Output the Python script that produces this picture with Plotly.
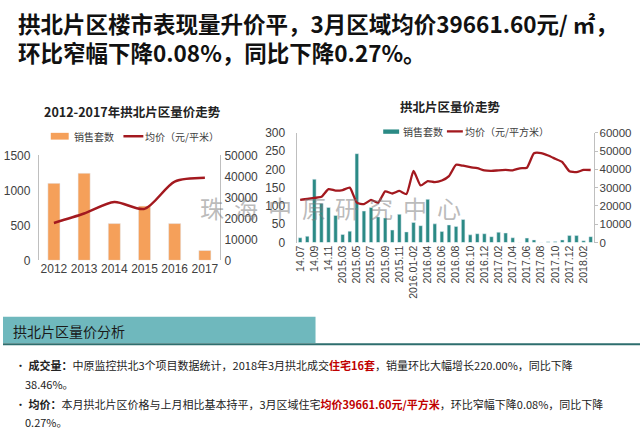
import plotly.graph_objects as go

# ---------------- data ----------------
years = ['2012', '2013', '2014', '2015', '2016', '2017']
year_sales = [1100, 1245, 525, 775, 525, 140]
year_price = [17800, 22300, 27800, 24500, 37500, 39300]

months = ['14.07', '14.08', '14.09', '14.10', '14.11', '14.12-15.02',
          '2015.03', '2015.04', '2015.05', '2015.06', '2015.07', '2015.08',
          '2015.09', '2015.10', '2015.11', '2015.12', '2016.01-02', '2016.03',
          '2016.04', '2016.05', '2016.06', '2016.07', '2016.08', '2016.09',
          '2016.10', '2016.11', '2016.12', '2017.01', '2017.02', '2017.03',
          '2017.04', '2017.05', '2017.06', '2017.07', '2017.08', '2017.09',
          '2017.10', '2017.11', '2017.12', '2018.01', '2018.02', '2018.03']
month_sales = [13, 17, 173, 107, 96, 74, 22, 31, 243, 86, 96, 70,
               67, 34, 77, 29, 55, 46, 118, 51, 30, 48, 44, 63,
               21, 24, 24, 16, 28, 26, 13, 0, 12, 7, 0, 2,
               3, 7, 19, 19, 5, 16]
month_price = [23300, 23800, 24400, 25000, 29200, 28400, 28700, 30000, 21800, 21000,
               23300, 21700, 28000, 26800, 28200, 26500, 39200, 31200, 33600, 33000,
               33900, 36300, 42500, 42000, 41200, 40700, 39400, 39200, 39500, 39700,
               39500, 40600, 40900, 48800, 48900, 47600, 45800, 44000, 39000, 38500,
               39700, 39661.6]

headline1 = "拱北片区楼市表现量升价平，3月区域均价39661.60元/ ㎡，"
headline2 = "环比窄幅下降0.08%，同比下降0.27%。"
left_title = "2012-2017年拱北片区量价走势"
right_title = "拱北片区量价走势"
left_names = ["销售套数", "均价（元/平米）"]
right_names = ["销售套数", "均价（元/平方米）"]
section_title = "拱北片区量价分析"
watermark = "珠海中原研究中心"

W, H = 640, 437
def px(x): return x / W
def py(y): return 1 - y / H

CJK = "Noto Sans CJK SC"
NUM = "Liberation Sans, Noto Sans CJK SC"
RED = "#A3191F"
ORANGE = "#F5A05A"
TEAL = "#2B8A85"
AX = "#BFBFBF"
TXT = "#404040"

fig = go.Figure()

fig.add_trace(go.Bar(x=years, y=year_sales, name=left_names[0], marker_color=ORANGE,
                     width=0.4, xaxis="x", yaxis="y", showlegend=False))
fig.add_trace(go.Scatter(x=years, y=year_price, name=left_names[1], mode="lines",
                         line=dict(color=RED, width=2.5, shape="spline", smoothing=0.8),
                         xaxis="x", yaxis="y2", showlegend=False))
fig.add_trace(go.Bar(x=months, y=month_sales, name=right_names[0], marker_color=TEAL,
                     width=0.5, xaxis="x2", yaxis="y3", showlegend=False))
fig.add_trace(go.Scatter(x=months, y=month_price, name=right_names[1], mode="lines",
                         line=dict(color=RED, width=2.3, shape="spline", smoothing=0.5),
                         xaxis="x2", yaxis="y4", showlegend=False))

tick_common = dict(showgrid=False, zeroline=False, tickformat="d")

fig.update_layout(
    width=W, height=H, margin=dict(l=0, r=0, t=0, b=0),
    paper_bgcolor="white", plot_bgcolor="white",
    font=dict(family=CJK, color=TXT),
    xaxis=dict(domain=[px(36), px(218)], anchor="y", type="category",
               showline=False, ticks="", showgrid=False, zeroline=False,
               tickfont=dict(family=NUM, size=12, color=TXT)),
    yaxis=dict(domain=[py(261.7), py(153.3)], anchor="x", range=[0, 1500], dtick=500,
               showline=True, linecolor=AX, linewidth=1, ticks="", ticklabelstandoff=5,
               tickfont=dict(family=NUM, size=12, color=TXT), **tick_common),
    yaxis2=dict(overlaying="y", side="right", anchor="x", range=[0, 50000], dtick=10000,
                showline=True, linecolor=AX, linewidth=1, ticks="", ticklabelstandoff=1,
                tickfont=dict(family=NUM, size=12, color=TXT), **tick_common),
    xaxis2=dict(domain=[px(295), px(594)], anchor="y3", type="category",
                showline=False, ticks="", tickangle=-90, showgrid=False, zeroline=False,
                tickvals=months[::2], ticktext=months[::2],
                tickfont=dict(family=NUM, size=10.5, color=TXT)),
    yaxis3=dict(domain=[py(243.3), py(130)], anchor="x2", range=[0, 300], dtick=50,
                showline=True, linecolor=AX, linewidth=1, ticks="", ticklabelstandoff=8,
                tickfont=dict(family=NUM, size=12, color=TXT), **tick_common),
    yaxis4=dict(overlaying="y3", side="right", anchor="x2", range=[0, 60000], dtick=10000,
                showline=True, linecolor=AX, linewidth=1, ticks="outside", ticklen=3,
                tickcolor=AX, ticklabelstandoff=-1,
                tickfont=dict(family=NUM, size=11.5, color=TXT), **tick_common),
    bargap=0.5,
)

def A(text, x, y, size, color=TXT, anchor="left", family=CJK):
    return dict(text=text, x=px(x), y=py(y), xref="paper", yref="paper",
                xanchor=anchor, yanchor="middle", showarrow=False,
                font=dict(family=family, size=size, color=color))

ann = []
ann.append(A("<b>" + headline1 + "</b>", 13, 17, 22.5, "#111111"))
ann.append(A("<b>" + headline2 + "</b>", 13, 46, 22.5, "#111111"))
ann.append(A("<b>" + left_title + "</b>", 130, 108, 12.5, "#222222", "center"))
ann.append(A("<b>" + right_title + "</b>", 450, 103, 12.5, "#222222", "center"))

# manual legends
ann.append(A(left_names[0], 69, 133.5, 10))
ann.append(A(left_names[1], 141, 133.5, 10))
ann.append(A(right_names[0], 400, 128.5, 10))
ann.append(A(right_names[1], 462, 128.5, 10))

# watermark
for i, ch in enumerate(watermark):
    ann.append(A(ch, 210 + 34 * i, 207, 24, "rgba(120,120,120,0.5)", "center"))

# bottom section
ann.append(A(section_title, 8, 335, 14, "#1a1a1a"))
b1 = ("•&nbsp;<b>成交量：</b>中原监控拱北3个项目数据统计，2018年3月拱北成交"
      "<span style='color:#C00000'><b>住宅16套</b></span>，销量环比大幅增长220.00%，同比下降")
b2 = ("•&nbsp;<b>均价：</b>本月拱北片区价格与上月相比基本持平，3月区域住宅"
      "<span style='color:#C00000'><b>均价39661.60元/平方米</b></span>，环比窄幅下降0.08%，同比下降")
for txt, x, y in [(b1, 10, 370), ("38.46%。", 20, 389), (b2, 10, 410), ("0.27%。", 20, 429)]:
    ann.append(A(txt, x, y, 11, "#222222"))

fig.update_layout(annotations=ann)

fig.update_layout(shapes=[
    dict(type="rect", xref="paper", yref="paper", x0=px(48), x1=px(66), y0=py(137), y1=py(130),
         fillcolor=ORANGE, line=dict(width=0)),
    dict(type="line", xref="paper", yref="paper", x0=px(121), x1=px(141), y0=py(133.5), y1=py(133.5),
         line=dict(color=RED, width=2.5)),
    dict(type="rect", xref="paper", yref="paper", x0=px(382), x1=px(398), y0=py(131), y1=py(126.5),
         fillcolor=TEAL, line=dict(width=0)),
    dict(type="line", xref="paper", yref="paper", x0=px(446), x1=px(462), y0=py(128.5), y1=py(128.5),
         line=dict(color=RED, width=2.3)),
    dict(type="rect", xref="paper", yref="paper", x0=0, x1=px(314), y0=py(347), y1=py(320),
         fillcolor="#6FB8BD", line=dict(width=0), layer="below"),
    dict(type="line", xref="paper", yref="paper", x0=0, x1=1, y0=py(348.5), y1=py(348.5),
         line=dict(color="#2E6E6E", width=2)),
])

fig.write_html("out.html", config={"displayModeBar": False},
               post_script="document.body.style.margin='0';document.body.style.overflow='hidden';")
